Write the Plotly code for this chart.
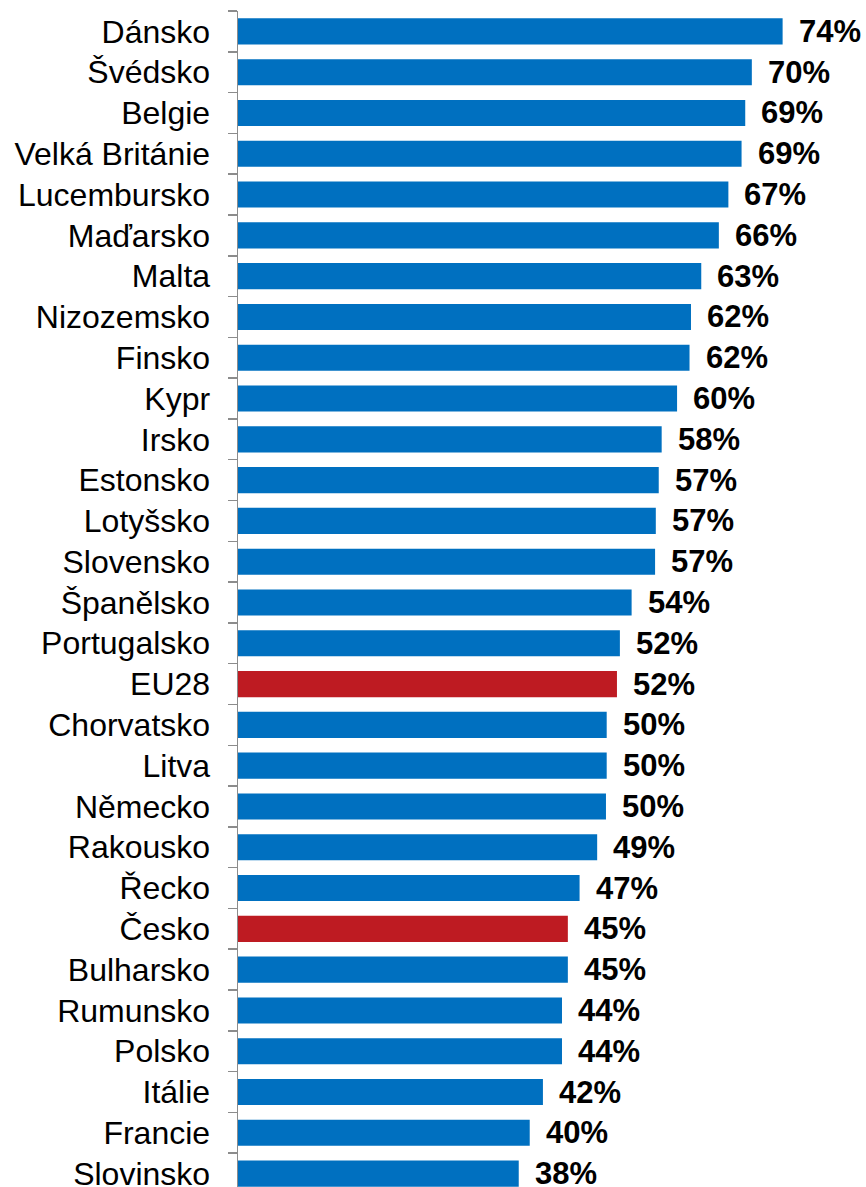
import plotly.graph_objects as go

countries = ["Dánsko", "Švédsko", "Belgie", "Velká Británie", "Lucembursko", "Maďarsko",
             "Malta", "Nizozemsko", "Finsko", "Kypr", "Irsko", "Estonsko", "Lotyšsko",
             "Slovensko", "Španělsko", "Portugalsko", "EU28", "Chorvatsko", "Litva",
             "Německo", "Rakousko", "Řecko", "Česko", "Bulharsko", "Rumunsko", "Polsko",
             "Itálie", "Francie", "Slovinsko"]
values = [74.3, 70.1, 69.2, 68.7, 66.9, 65.6, 63.2, 61.8, 61.6, 59.9, 57.8, 57.4, 57.0,
          56.9, 53.7, 52.1, 51.7, 50.3, 50.3, 50.2, 49.0, 46.6, 45.0, 45.0, 44.2, 44.2,
          41.6, 39.8, 38.3]
labels = ["74%", "70%", "69%", "69%", "67%", "66%", "63%", "62%", "62%", "60%", "58%",
          "57%", "57%", "57%", "54%", "52%", "52%", "50%", "50%", "50%", "49%", "47%",
          "45%", "45%", "44%", "44%", "42%", "40%", "38%"]
highlight = ["EU28", "Česko"]

BLUE = "#0070C0"
RED = "#BE1B22"
colors = [RED if c in highlight else BLUE for c in countries]

fig = go.Figure()
fig.add_trace(go.Bar(
    x=values, y=countries, orientation="h",
    marker=dict(color=colors, line=dict(width=0)),
    hoverinfo="skip",
))

for c, v, t in zip(countries, values, labels):
    fig.add_annotation(x=v, y=c, text=t, showarrow=False, xanchor="left",
                       yanchor="middle", xshift=14,
                       font=dict(family="Liberation Sans, Arial", size=31, color="black",
                                 weight="bold"))

fig.update_layout(
    width=866, height=1194,
    margin=dict(l=238, r=0, t=11, b=0, pad=0),
    plot_bgcolor="white", paper_bgcolor="white",
    bargap=0.36,
    showlegend=False,
    font=dict(family="Liberation Sans, Arial", size=32, color="black"),
)
fig.update_xaxes(range=[0, 628 / 7.33], visible=False, showgrid=False, zeroline=False)
fig.update_yaxes(
    autorange="reversed", type="category",
    showline=True, linecolor="#8C8C8C", linewidth=1.5,
    ticks="outside", tickson="boundaries", ticklen=9, tickcolor="#8C8C8C", tickwidth=1.5,
    showgrid=False, ticklabelstandoff=20,
    tickfont=dict(family="Liberation Sans, Arial", size=32, color="black"),
)

fig.write_html("out.html",
               config={"displayModeBar": False, "staticPlot": True},
               post_script="document.body.style.margin='0';document.body.style.overflow='hidden';")
